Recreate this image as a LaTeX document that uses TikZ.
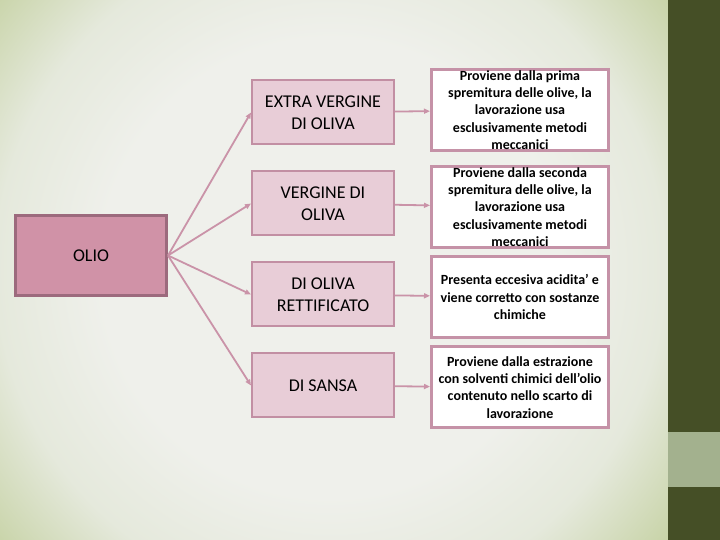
\documentclass[tikz,border=0pt]{standalone}
\usepackage{fontspec}
\setmainfont{Carlito}
\definecolor{olioFill}{HTML}{D092A7}
\definecolor{olioLine}{HTML}{9C6A7D}
\definecolor{catFill}{HTML}{E8CDD7}
\definecolor{catLine}{HTML}{C28FA3}
\definecolor{descLine}{HTML}{C592A7}
\definecolor{arrowPink}{HTML}{CA93A8}
\definecolor{barDark}{HTML}{454F26}
\definecolor{barLight}{HTML}{A3B18E}
\definecolor{bgIn}{HTML}{EFF0EB}
\definecolor{bgMid}{HTML}{E5E9DC}
\definecolor{bgOut}{HTML}{C6D2A4}
\usetikzlibrary{arrows.meta,positioning}
\pgfdeclareradialshading{slidebg}{\pgfpoint{0bp}{0bp}}{color(0bp)=(bgIn); color(13bp)=(bgIn); color(19bp)=(bgMid); color(25bp)=(bgOut); color(50bp)=(bgOut)}
\tikzset{
  olio_box/.style={draw=olioLine,fill=olioFill,line width=3pt,
    minimum width=151pt,minimum height=80pt,font=\fontsize{18}{22}\selectfont},
  cat_box/.style={draw=catLine,fill=catFill,line width=2pt,
    minimum width=142pt,minimum height=64pt,align=center,font=\fontsize{18}{22}\selectfont},
  desc_box/.style={draw=descLine,fill=white,line width=3pt,inner ysep=0pt,
    minimum width=177pt,minimum height=81pt,align=center,font=\fontsize{14}{17.2}\selectfont\bfseries},
  arr/.style={-{Triangle[length=6pt,width=5pt]},draw=arrowPink,line width=1.8pt},
}
\begin{document}
\begin{tikzpicture}[x=1pt,y=1pt]
  \useasboundingbox (0,0) rectangle (720,540);

  % slide background
  \begin{scope}
    \clip (0,0) rectangle (668,540);
    \shade[shading=slidebg] (330,272) circle (440);
  \end{scope}
  \fill[barDark] (668,0) rectangle (720,540);
  \fill[barLight] (668,53) rectangle (720,108);

  \node[olio_box] (olio) at (91,284.5) {OLIO};

  \node[cat_box] (extra) at (323,427.5) {EXTRA VERGINE\\DI OLIVA};
  \node[cat_box, below=25pt of extra] (vergine) {VERGINE DI\\OLIVA};
  \node[cat_box, below=25pt of vergine] (rettif) {DI OLIVA\\RETTIFICATO};
  \node[cat_box, below=25pt of rettif] (sansa) {DI SANSA};

  \node[desc_box, right=35pt of extra, yshift=2.5pt] (d_extra) {Proviene dalla prima\\spremitura delle olive, la\\lavorazione usa\\esclusivamente metodi\\meccanici};
  \node[desc_box, right=35pt of vergine, yshift=-3.5pt] (d_vergine) {Proviene dalla seconda\\spremitura delle olive, la\\lavorazione usa\\esclusivamente metodi\\meccanici};
  \node[desc_box, right=35pt of rettif, yshift=-2.5pt] (d_rettif) {Presenta eccesiva acidita’ e\\viene corretto con sostanze\\chimiche};
  \node[desc_box, right=35pt of sansa, yshift=-2pt] (d_sansa) {Proviene dalla estrazione\\con solventi chimici dell’olio\\contenuto nello scarto di\\lavorazione};

  \draw[arr] (olio.east)--(extra.west); \draw[arr] (olio.east)--(vergine.west);
  \draw[arr] (olio.east)--(rettif.west); \draw[arr] (olio.east)--(sansa.west);
  \draw[arr] (extra)--(d_extra); \draw[arr] (vergine)--(d_vergine);
  \draw[arr] (rettif)--(d_rettif); \draw[arr] (sansa)--(d_sansa);
\end{tikzpicture}
\end{document}
